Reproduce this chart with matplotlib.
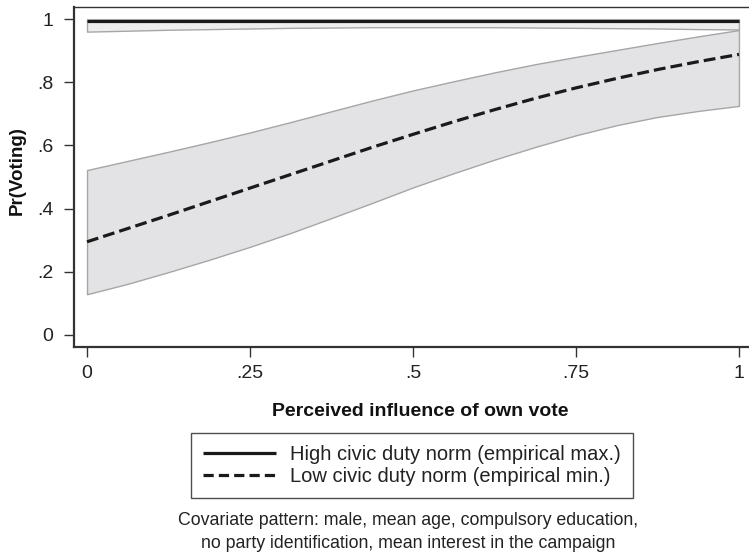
import matplotlib
matplotlib.use("Agg")
import matplotlib.pyplot as plt
from matplotlib.lines import Line2D

plt.rcParams['font.family'] = ['Liberation Sans', 'DejaVu Sans']

# Data
x = [0, .0625, .125, .1875, .25, .3125, .375, .4375, .5,
     .5625, .625, .6875, .75, .8125, .875, .9375, 1]
high_pred = [.995] * 17
high_upper = [.999] * 17
high_lower = [.960, .963, .966, .968, .970, .972, .973, .974, .974,
              .974, .974, .973, .972, .971, .970, .968, .967]
low_pred = [.295, .337, .379, .422, .465, .508, .551, .594, .635,
            .675, .713, .749, .782, .812, .840, .865, .888]
low_upper = [.522, .551, .580, .610, .641, .674, .708, .742, .774,
             .803, .831, .857, .880, .902, .924, .945, .965]
low_lower = [.129, .162, .199, .238, .279, .323, .370, .418, .467,
             .512, .555, .595, .632, .664, .690, .709, .725]

xticks = [0, .25, .5, .75, 1]
xticklabels = ['0', '.25', '.5', '.75', '1']
yticks = [0, .2, .4, .6, .8, 1]
yticklabels = ['0', '.2', '.4', '.6', '.8', '1']

legend_labels = ['High civic duty norm (empirical max.)',
                 'Low civic duty norm (empirical min.)']
xlabel = 'Perceived influence of own vote'
ylabel = 'Pr(Voting)'
caption_lines = ['Covariate pattern: male, mean age, compulsory education,',
                 'no party identification, mean interest in the campaign']

W, H = 749, 553
fig = plt.figure(figsize=(W / 100, H / 100), dpi=100)

left, right, top, bottom = 74, 752, 7, 347
ax = fig.add_axes([left / W, 1 - bottom / H, (right - left) / W, (bottom - top) / H])

ax.fill_between(x, low_lower, low_upper, facecolor='#e3e3e5', edgecolor='#a6a6a6', linewidth=1.0, zorder=1)
ax.fill_between(x, high_lower, high_upper, facecolor='#eeeeef', edgecolor='#a6a6a6', linewidth=1.0, zorder=1)
ax.plot(x, high_pred, color='#1a1a1a', linewidth=2.3, solid_capstyle='butt', zorder=3)
ax.plot(x, low_pred, color='#1a1a1a', linewidth=2.3, linestyle=(0, (3.7, 1.6)), dash_capstyle='butt', zorder=3)

ax.set_xlim(-0.02, 1.02)
ax.set_ylim(-0.038, 1.038)
ax.set_xticks(xticks)
ax.set_xticklabels(xticklabels)
ax.set_yticks(yticks)
ax.set_yticklabels(yticklabels)
ax.tick_params(axis='both', direction='out', length=7, width=1.0, color='#333333',
               labelsize=14, labelcolor='#222222')
ax.tick_params(axis='y', pad=8)
ax.tick_params(axis='x', pad=6)
ax.spines['right'].set_visible(False)
ax.spines['top'].set_linewidth(1.0)
ax.spines['left'].set_linewidth(1.6)
ax.spines['bottom'].set_linewidth(1.6)
for s in ['top', 'left', 'bottom']:
    ax.spines[s].set_color('#333333')

fig.text(17 / W, 1 - 171 / H, ylabel, rotation=90, ha='center', va='center',
         fontsize=13.5, fontweight='bold', color='#111111')
fig.text(420 / W, 1 - 416 / H, xlabel, ha='center', va='baseline',
         fontsize=14, fontweight='bold', color='#111111')

handles = [Line2D([0], [0], color='#1a1a1a', linewidth=2.3, solid_capstyle='butt'),
           Line2D([0], [0], color='#1a1a1a', linewidth=2.3, linestyle=(0, (3.2, 1.6)), dash_capstyle='butt')]
leg = fig.legend(handles, legend_labels, loc='center', bbox_to_anchor=(412 / W, 1 - 465.5 / H),
                 fontsize=14.5, frameon=True, fancybox=False, edgecolor='#222222',
                 handlelength=3.6, handletextpad=0.7, labelspacing=0.15, borderpad=0.6,
                 borderaxespad=0)
leg.get_frame().set_linewidth(1.0)
for t in leg.get_texts():
    t.set_color('#222222')

fig.text(408.5 / W, 1 - 525 / H, caption_lines[0], ha='center', va='baseline',
         fontsize=12.8, color='#222222')
fig.text(408.5 / W, 1 - 548 / H, caption_lines[1], ha='center', va='baseline',
         fontsize=12.8, color='#222222')

fig.savefig('out.png', dpi=100)
